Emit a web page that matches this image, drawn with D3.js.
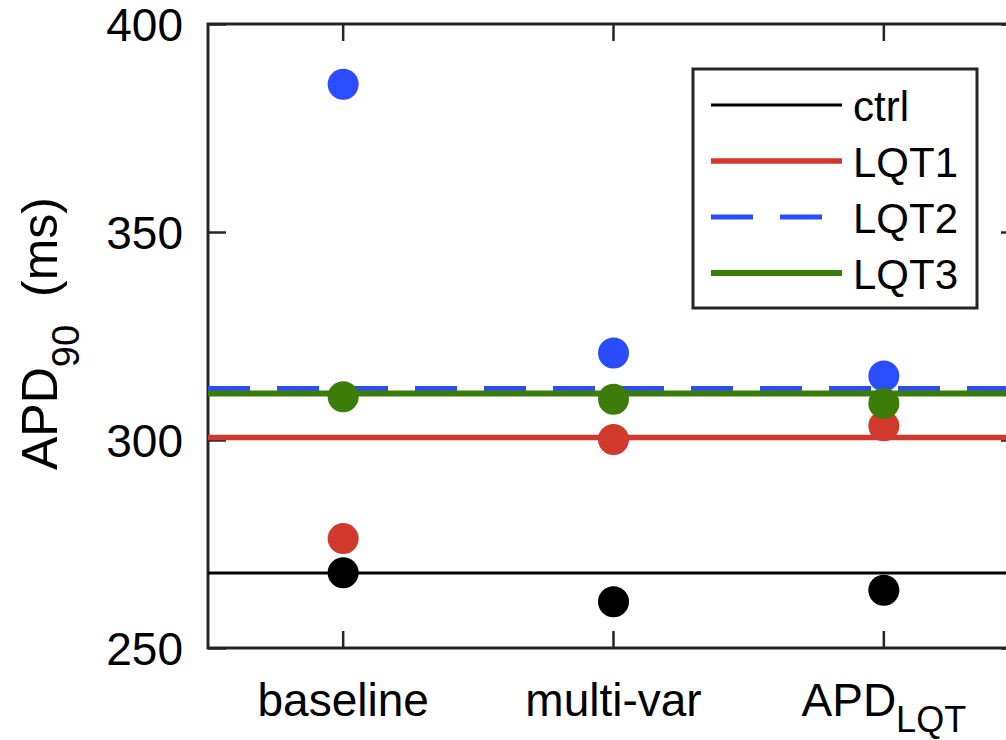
<!DOCTYPE html>
<html>
<head>
<meta charset="utf-8">
<script src="https://cdn.jsdelivr.net/npm/d3@7"></script>
<style>
  html, body { margin: 0; padding: 0; background: #fff; }
  svg { display: block; font-family: "Liberation Sans", Arial, Helvetica, sans-serif; }
</style>
</head>
<body>
<svg id="chart" width="1006" height="740"></svg>
<script>
// Protocols along the x axis ("_" marks a subscript)
const categories = ["baseline", "multi-var", "APD_LQT"];
// Y ticks
const yTicks = [250, 300, 350, 400];
// Cell types
const seriesNames = ["ctrl", "LQT1", "LQT2", "LQT3"];
const seriesColors = ["#000000", "#d0392b", "#2b4cff", "#3b7d08"];
const seriesWidths = [3, 5.5, 5, 6];
const seriesDash = [null, null, "42,27", null];
// Reference APD90 of each cell type (horizontal lines, ms)
const referenceAPD = [268.0, 300.6, 312.4, 311.2];
// APD90 after each protocol (ms)
const ctrlAPD = [268.1, 261.1, 263.9];
const lqt1APD = [276.3, 300.1, 303.4];
const lqt2APD = [385.5, 320.9, 315.4];
const lqt3APD = [310.4, 309.8, 308.8];
const pointValues = [ctrlAPD, lqt1APD, lqt2APD, lqt3APD];

const svg = d3.select("#chart");
const plot = { left: 208, right: 1019, top: 24, bottom: 648 };
const axisColor = "#262626";

const x = d3.scaleBand().domain(categories).range([plot.left, plot.right]).paddingInner(0).paddingOuter(0);
const xc = c => x(c) + x.bandwidth() / 2;
const y = d3.scaleLinear().domain([250, 400]).range([plot.bottom, plot.top]);

svg.append("defs").append("clipPath").attr("id", "plotClip")
  .append("rect")
  .attr("x", plot.left).attr("y", plot.top)
  .attr("width", plot.right - plot.left).attr("height", plot.bottom - plot.top);

// Axes with inward ticks on all four sides
function styleAxis(g) {
  g.select(".domain").remove();
  g.selectAll(".tick line").attr("stroke", axisColor).attr("stroke-width", 2.5);
  g.selectAll(".tick text").attr("fill", "#000");
}
svg.append("g").attr("transform", `translate(${plot.left},0)`)
  .call(d3.axisLeft(y).tickValues(yTicks).tickSizeInner(-18).tickSizeOuter(0).tickPadding(25))
  .call(styleAxis)
  .call(g => g.selectAll(".tick text").attr("font-size", 46).attr("dy", "0.36em").attr("font-family", null));
svg.append("g").attr("transform", `translate(${plot.right},0)`)
  .call(d3.axisRight(y).tickValues(yTicks).tickSizeInner(-18).tickSizeOuter(0).tickFormat(""))
  .call(styleAxis);
svg.append("g").attr("transform", `translate(0,${plot.top})`)
  .call(d3.axisTop(x).tickSizeInner(-17).tickSizeOuter(0).tickFormat(""))
  .call(styleAxis);
const xAxis = svg.append("g").attr("transform", `translate(0,${plot.bottom})`)
  .call(d3.axisBottom(x).tickSizeInner(-17).tickSizeOuter(0).tickPadding(0))
  .call(styleAxis);

// Tick labels with TeX-style subscripts
xAxis.selectAll(".tick text").each(function (d) {
  const t = d3.select(this).text(null)
    .attr("font-family", null).attr("font-size", 46)
    .attr("y", 68).attr("dy", 0);
  const [main, sub] = d.split("_");
  t.append("tspan").text(main);
  if (sub) t.append("tspan").attr("font-size", 36).attr("dy", 16).text(sub);
});

// Frame
svg.append("rect")
  .attr("x", plot.left).attr("y", plot.top)
  .attr("width", plot.right - plot.left).attr("height", plot.bottom - plot.top)
  .attr("fill", "none").attr("stroke", axisColor).attr("stroke-width", 3);

// Reference lines
const lineGen = d3.line().x(d => d[0]).y(d => d[1]);
const lines = svg.append("g").attr("clip-path", "url(#plotClip)");
seriesNames.forEach((s, i) => {
  lines.append("path")
    .attr("d", lineGen([[plot.left, y(referenceAPD[i])], [plot.right, y(referenceAPD[i])]]))
    .attr("fill", "none")
    .attr("stroke", seriesColors[i])
    .attr("stroke-width", seriesWidths[i])
    .attr("stroke-dasharray", seriesDash[i]);
});

// Protocol results
const dots = svg.append("g");
seriesNames.forEach((s, i) => {
  dots.selectAll(null)
    .data(pointValues[i])
    .join("circle")
    .attr("cx", (v, j) => xc(categories[j]))
    .attr("cy", v => y(v))
    .attr("r", 15.5)
    .attr("fill", seriesColors[i]);
});

// Y label
const yl = svg.append("text")
  .attr("transform", `translate(57,470) rotate(-90)`)
  .attr("font-size", 50).attr("fill", "#000");
yl.append("tspan").text("APD");
yl.append("tspan").attr("font-size", 38).attr("dy", 22).text("90");
yl.append("tspan").attr("dy", -22).attr("dx", 14).text(" (ms)");

// Legend
const leg = svg.append("g");
leg.append("rect")
  .attr("x", 693).attr("y", 69).attr("width", 284).attr("height", 239)
  .attr("fill", "#fff").attr("stroke", axisColor).attr("stroke-width", 3);
seriesNames.forEach((s, i) => {
  const ry = 105 + i * 56;
  leg.append("path")
    .attr("d", lineGen([[711, ry], [842, ry]]))
    .attr("stroke", seriesColors[i])
    .attr("stroke-width", seriesWidths[i])
    .attr("stroke-dasharray", seriesDash[i])
    .attr("fill", "none");
  leg.append("text")
    .attr("x", 853).attr("y", ry).attr("dy", "0.37em")
    .attr("font-size", 42).attr("fill", "#000")
    .text(s);
});
</script>
</body>
</html>
